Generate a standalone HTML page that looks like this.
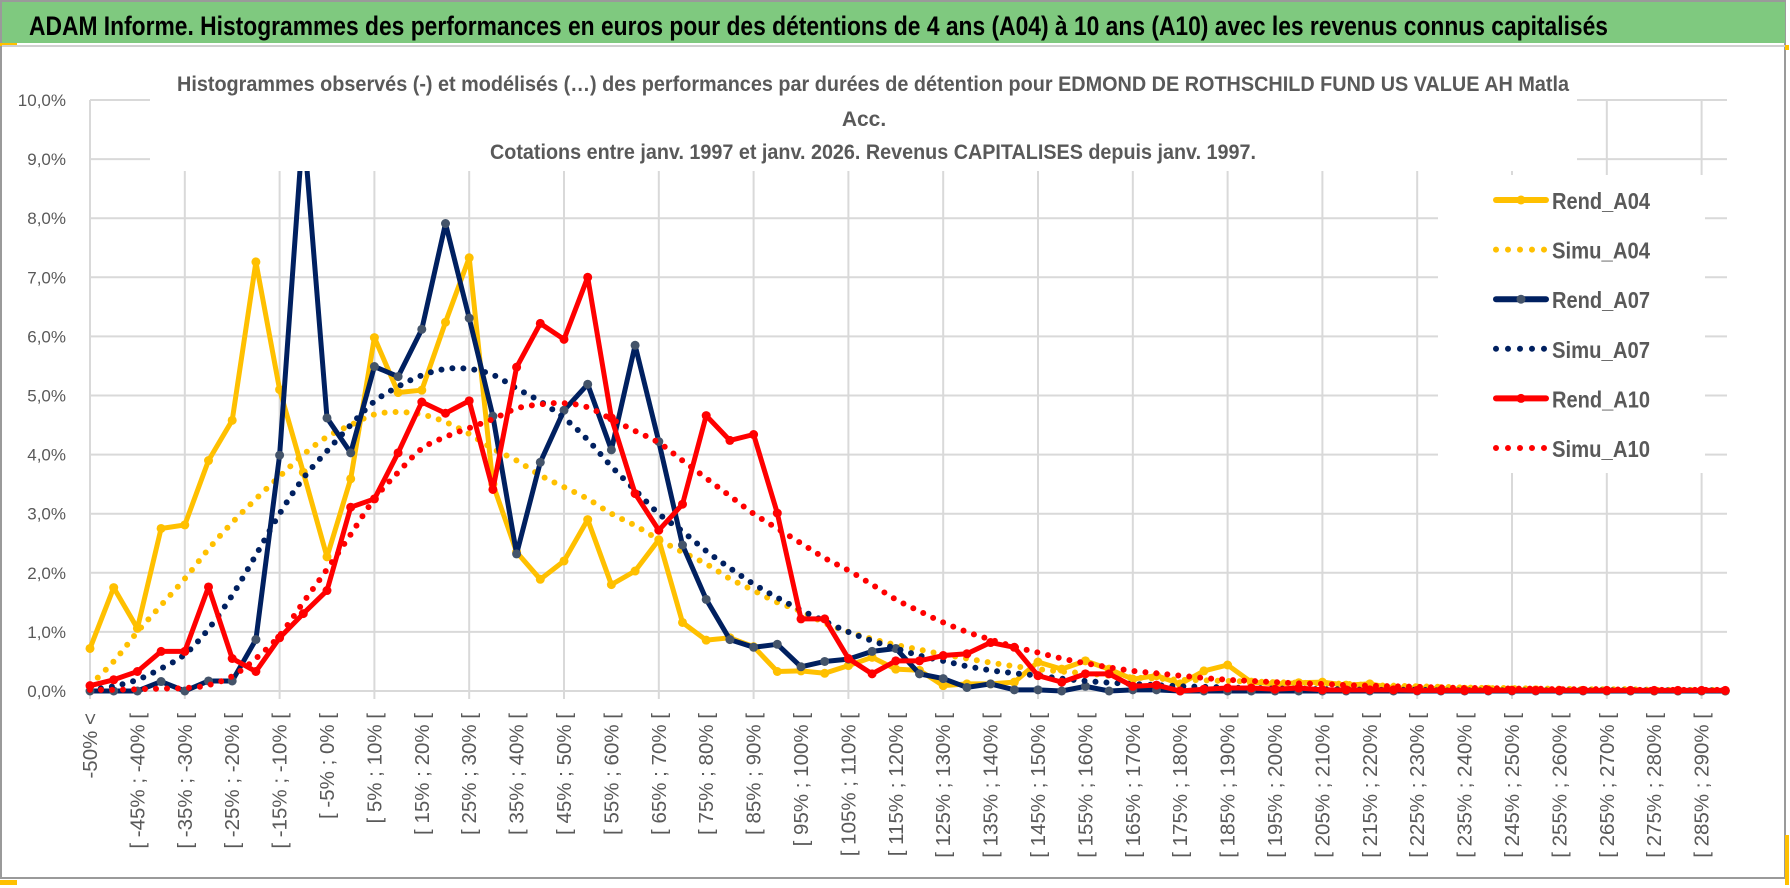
<!DOCTYPE html>
<html><head><meta charset="utf-8"><style>
html,body{margin:0;padding:0;background:#fff;}
svg{display:block;}
text{font-family:"Liberation Sans",sans-serif;}
</style></head><body>
<svg id="chart" width="1790" height="888" viewBox="0 0 1790 888" xmlns="http://www.w3.org/2000/svg">
<rect x="0" y="0" width="1790" height="888" fill="#fff"/>
<rect x="1" y="1" width="1784" height="877" fill="none" stroke="#9a9a9a" stroke-width="2"/>
<rect x="2" y="2" width="1783" height="41" fill="#7fc97f"/>
<rect x="0" y="43" width="17" height="3" fill="#ffc000"/>
<line x1="2" y1="46" x2="1785" y2="46" stroke="#d0d0d0" stroke-width="2"/>
<rect x="1785" y="45" width="4" height="5" fill="#ffc000"/>
<rect x="1785" y="835" width="4" height="50" fill="#ffc000"/>
<rect x="0" y="880" width="17" height="5" fill="#ffc000"/>
<text x="29" y="35" font-size="27" font-weight="bold" fill="#000" textLength="1579" lengthAdjust="spacingAndGlyphs">ADAM Informe. Histogrammes des performances en euros pour des détentions de 4 ans (A04) à 10 ans (A10) avec les revenus connus capitalisés</text>
<g id="grid"></g>
<g id="series"></g>
<rect x="150" y="55" width="1427" height="116" fill="#fff"/>
<text x="177" y="91" font-size="21" font-weight="bold" fill="#595959" textLength="1392" lengthAdjust="spacingAndGlyphs">Histogrammes observés (-) et modélisés (…) des performances par durées de détention pour EDMOND DE ROTHSCHILD FUND US VALUE AH Matla</text>
<text x="864" y="126" font-size="21" font-weight="bold" fill="#595959" text-anchor="middle">Acc.</text>
<text x="490" y="159" font-size="21" font-weight="bold" fill="#595959" textLength="766" lengthAdjust="spacingAndGlyphs">Cotations entre janv. 1997 et janv. 2026. Revenus CAPITALISES depuis janv. 1997.</text>
<g id="legend"></g>
<g id="axes"></g>
</svg>
<script>
const categoryCount = 70;
const yTicks = [0,1,2,3,4,5,6,7,8,9,10];
const rendA04 = [0.72,1.75,1.06,2.75,2.81,3.9,4.58,7.26,5.1,3.7,2.27,3.59,5.98,5.05,5.09,6.24,7.33,3.5,2.35,1.89,2.2,2.9,1.8,2.03,2.56,1.16,0.86,0.9,0.75,0.33,0.34,0.3,0.43,0.57,0.37,0.35,0.09,0.12,0.12,0.15,0.49,0.37,0.51,0.37,0.2,0.26,0.12,0.34,0.44,0.15,0.12,0.14,0.15,0.1,0.12,0.05,0.05,0.04,0.03,0.03,0.02,0.02,0.01,0.01,0,0,0,0,0,0];
const simuA04 = [0.1,0.5,1.0,1.45,1.9,2.4,2.85,3.25,3.63,4.0,4.3,4.5,4.68,4.72,4.68,4.55,4.35,4.1,3.9,3.65,3.45,3.25,3.0,2.8,2.56,2.35,2.15,1.9,1.7,1.5,1.35,1.15,1.0,0.88,0.78,0.7,0.62,0.55,0.48,0.42,0.37,0.33,0.3,0.26,0.23,0.21,0.19,0.18,0.17,0.16,0.15,0.14,0.13,0.12,0.1,0.09,0.08,0.07,0.06,0.05,0.05,0.04,0.04,0.03,0.03,0.03,0.02,0.02,0.02,0.02];
const rendA07 = [0,0,0,0.16,0,0.17,0.17,0.87,3.99,9.6,4.62,4.03,5.49,5.32,6.12,7.91,6.31,4.65,2.32,3.87,4.75,5.19,4.08,5.85,4.22,2.47,1.55,0.87,0.74,0.79,0.41,0.5,0.54,0.67,0.72,0.29,0.21,0.06,0.12,0.02,0.02,0,0.08,0,0.02,0.02,0,0,0,0,0,0,0,0,0,0,0,0,0,0,0,0,0,0,0,0,0,0,0,0];
const simuA07 = [0.02,0.08,0.19,0.38,0.62,1.05,1.62,2.3,3.0,3.6,4.06,4.5,4.9,5.15,5.34,5.45,5.45,5.35,5.12,4.9,4.62,4.25,3.8,3.4,3.0,2.7,2.37,2.08,1.81,1.58,1.37,1.18,1.0,0.85,0.72,0.6,0.51,0.42,0.35,0.3,0.26,0.21,0.17,0.14,0.12,0.1,0.08,0.07,0.06,0.05,0.04,0.04,0.03,0.03,0.02,0.02,0.02,0.01,0.01,0.01,0.01,0.01,0.01,0.01,0.01,0.01,0.01,0.01,0.01,0.01];
const rendA10 = [0.09,0.19,0.33,0.67,0.67,1.76,0.55,0.33,0.9,1.31,1.7,3.11,3.25,4.03,4.89,4.7,4.91,3.41,5.48,6.22,5.95,7.0,4.62,3.34,2.72,3.16,4.66,4.24,4.34,3.01,1.22,1.22,0.55,0.29,0.51,0.51,0.6,0.63,0.82,0.74,0.26,0.15,0.29,0.29,0.08,0.1,0,0.03,0.05,0.05,0.03,0.05,0.02,0.02,0.02,0.02,0.01,0.01,0.01,0.01,0.01,0.01,0.01,0.01,0.01,0.01,0.01,0.01,0.01,0.01];
const simuA10 = [0.02,0.02,0.03,0.04,0.05,0.1,0.25,0.55,0.94,1.5,2.06,2.65,3.25,3.7,4.1,4.3,4.45,4.6,4.78,4.85,4.87,4.8,4.6,4.4,4.2,3.9,3.6,3.3,3.0,2.75,2.5,2.25,2.04,1.8,1.55,1.35,1.16,1.0,0.87,0.75,0.65,0.55,0.47,0.4,0.34,0.3,0.26,0.22,0.19,0.17,0.15,0.13,0.12,0.1,0.09,0.08,0.07,0.06,0.05,0.05,0.04,0.04,0.03,0.03,0.03,0.02,0.02,0.02,0.02,0.02];
const seriesNames = ["Rend_A04","Simu_A04","Rend_A07","Simu_A07","Rend_A10","Simu_A10"];

const NS = "http://www.w3.org/2000/svg";
const X0 = 90, XSTEP = 23.7, Y0 = 691, YUNIT = 59.1;
function xPos(i){ return X0 + i*XSTEP; }
function yPos(v){ return Y0 - v*YUNIT; }
function mk(tag, attrs, parent){ const e=document.createElementNS(NS,tag); for(const k in attrs) e.setAttribute(k,attrs[k]); parent.appendChild(e); return e; }
function catLabel(i){ if(i===0) return "-50% <"; const lo=-55+5*i; return "[ "+lo+"% ; "+(lo+5)+"% ["; }

const grid = document.getElementById('grid');
const xRight = 1727;
yTicks.forEach(t=>{
  const l = mk('line',{x1:X0,x2:xRight,y1:yPos(t),y2:yPos(t),stroke:'#d9d9d9','stroke-width':2},grid);
  
  
});
for(let i=0;i<categoryCount;i+=4){
  const l = mk('line',{x1:xPos(i),x2:xPos(i),y1:yPos(10),y2:Y0+8,stroke:'#d9d9d9','stroke-width':2},grid);
  
  
}

const axes = document.getElementById('axes');
yTicks.forEach(t=>{
  const tx = mk('text',{x:66,y:yPos(t)+6,'font-size':17,fill:'#595959','text-anchor':'end'},axes);
  tx.textContent = t.toFixed(1).replace('.',',')+'%';
  
  
});
for(let i=0;i<categoryCount;i+=2){
  const x = xPos(i)+7, y = 713;
  const tx = mk('text',{x:x,y:y,'font-size':20.5,fill:'#595959','text-anchor':'end',transform:'rotate(-90 '+x+' '+y+')'},axes);
  tx.textContent = catLabel(i);
  
  
}

function smoothPath(vals){
  const p = vals.map((v,i)=>[xPos(i),yPos(v)]);
  let d = 'M'+p[0][0]+' '+p[0][1];
  for(let i=0;i<p.length-1;i++){
    const p0=p[Math.max(0,i-1)], p1=p[i], p2=p[i+1], p3=p[Math.min(p.length-1,i+2)];
    const c1x=p1[0]+(p2[0]-p0[0])/6, c1y=p1[1]+(p2[1]-p0[1])/6;
    const c2x=p2[0]-(p3[0]-p1[0])/6, c2y=p2[1]-(p3[1]-p1[1])/6;
    d+=' C'+c1x+' '+c1y+' '+c2x+' '+c2y+' '+p2[0]+' '+p2[1];
  }
  return d;
}
const series = document.getElementById('series');
function drawRend(vals,color,marker,name){
  const g = mk('g',{},series);
  
  
  const pl = mk('polyline',{points:vals.map((v,i)=>xPos(i)+','+yPos(v)).join(' '),fill:'none',stroke:color,'stroke-width':5,'stroke-linejoin':'round'},g);
  
  
  vals.forEach((v,i)=>{
    const c = mk('circle',{cx:xPos(i),cy:yPos(v),r:4.5,fill:marker},g);
    
    
  });
}
function drawSimu(vals,color,name){
  const p = mk('path',{d:smoothPath(vals),fill:'none',stroke:color,'stroke-width':6,'stroke-linecap':'round','stroke-dasharray':'0 11'},series);
  
  
}
drawRend(rendA04,'#ffc000','#ffc000','rend-a04');
drawSimu(simuA04,'#ffc000','simu-a04');
drawRend(rendA07,'#002060','#44546a','rend-a07');
drawSimu(simuA07,'#002060','simu-a07');
drawRend(rendA10,'#ff0000','#ff0000','rend-a10');
drawSimu(simuA10,'#ff0000','simu-a10');

const legend = document.getElementById('legend');
const lb = mk('rect',{x:1438,y:175,width:267,height:298,fill:'#fff'},legend);


const legendColors = ['#ffc000','#ffc000','#002060','#002060','#ff0000','#ff0000'];
const legendMarkers = ['#ffc000',null,'#44546a',null,'#ff0000',null];
seriesNames.forEach((n,k)=>{
  const y = 200 + k*49.6;
  const g = mk('g',{},legend);
  
  
  if(legendMarkers[k]){
    mk('line',{x1:1496,x2:1546,y1:y,y2:y,stroke:legendColors[k],'stroke-width':6,'stroke-linecap':'round'},g);
    mk('circle',{cx:1521,cy:y,r:4.5,fill:legendMarkers[k]},g);
  } else {
    mk('line',{x1:1496,x2:1546,y1:y,y2:y,stroke:legendColors[k],'stroke-width':6,'stroke-linecap':'round','stroke-dasharray':'0 12'},g);
  }
  const t = mk('text',{x:1552,y:y+9,'font-size':23,'font-weight':'bold',fill:'#595959',textLength:98,lengthAdjust:'spacingAndGlyphs'},g);
  t.textContent = n;
});
</script>
</body></html>
